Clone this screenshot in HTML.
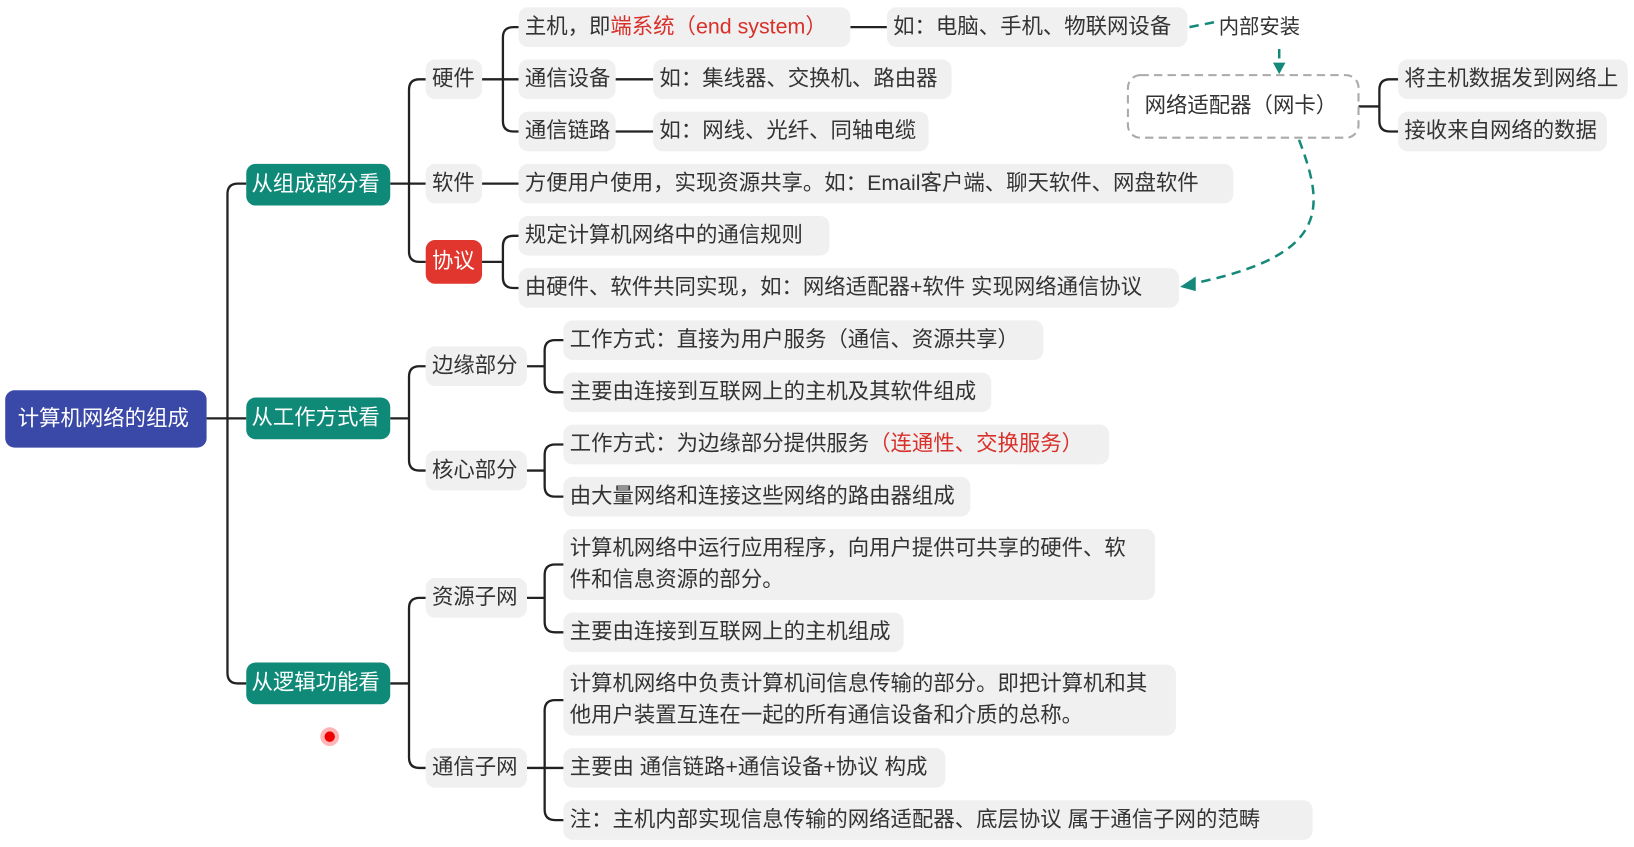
<!DOCTYPE html>
<html><head><meta charset="utf-8"><style>
html,body{margin:0;padding:0;background:#fff;width:1634px;height:847px;overflow:hidden}
#w{position:absolute;left:0;top:0;width:1566px;height:812px;transform:scale(1.0434);transform-origin:0 0;font-family:"Liberation Sans","Noto Sans CJK SC",sans-serif;color:#333}
.b{position:absolute;background:#f0f0f0;border-radius:9px;font-size:20.5px;line-height:38px;height:38px;padding-left:6px;box-sizing:border-box;white-space:nowrap}
.t{line-height:30px;padding-top:4px}
.g{background:#0f8a78;color:#fff;font-size:20.5px;padding-left:5px;height:40px;line-height:40px}
.r{color:#d8302a}
svg{position:absolute;left:0;top:0}
</style></head><body><div id="w">
<svg width="1566" height="812" fill="none" stroke="#222" stroke-width="2.2">
<path d="M198,401H236M218,401V186Q218,176 228,176H236M218,401V645Q218,655 228,655H236"/>
<path d="M374,176H408M392,176V86Q392,76 402,76H408M392,176V241Q392,251 402,251H408"/>
<path d="M462,76H497M482,76V36Q482,26 492,26H497M482,76V116Q482,126 492,126H497"/>
<path d="M815,26H850M590,76H626M590,126H626M462,176H497"/>
<path d="M462,251H482M482,251V236Q482,226 492,226H497M482,251V266Q482,276 492,276H497"/>
<path d="M374,401H392M392,401V361Q392,351 402,351H408M392,401V441Q392,451 402,451H408"/>
<path d="M505,351H522M522,351V336Q522,326 532,326H540M522,351V366Q522,376 532,376H540"/>
<path d="M505,451H522M522,451V436Q522,426 532,426H540M522,451V466Q522,476 532,476H540"/>
<path d="M374,655H392M392,655V583Q392,573 402,573H408M392,655V726Q392,736 402,736H408"/>
<path d="M505,573H522M522,573V551Q522,541 532,541H540M522,573V596Q522,606 532,606H540"/>
<path d="M505,736H540M522,736V681Q522,671 532,671H540M522,736V776Q522,786 532,786H540"/>
<path d="M1302,102H1322M1322,102V86Q1322,76 1332,76H1340M1322,102V116Q1322,126 1332,126H1340"/>
<g stroke="#14897a" stroke-width="2.4" stroke-dasharray="9,6">
<path d="M1140,26L1165,21"/>
<path d="M1226,47V62"/>
<path d="M1245,134C1270,200 1275,245 1142,272"/>
</g>
<g fill="#14897a" stroke="none">
<path d="M1220,60L1232,60L1226,71Z"/>
<path d="M1131,275L1146,265L1146,279Z"/>
</g>
<rect x="1081" y="72" width="221" height="60" rx="12" stroke="#aaa" stroke-dasharray="8,5" stroke-width="2" fill="#fff"/>
<circle cx="316" cy="706" r="9" fill="#ff6b6b" stroke="none" opacity=".5"/>
<circle cx="316" cy="706" r="5" fill="#e00" stroke="none"/>
</svg>
<div class="b" style="left:5px;top:374px;width:193px;height:55px;line-height:55px;background:#3a48a8;color:#fff;font-size:20.5px;padding-left:12px">计算机网络的组成</div>
<div class="b g" style="left:236px;top:157px;width:138px">从组成部分看</div>
<div class="b g" style="left:236px;top:381px;width:138px">从工作方式看</div>
<div class="b g" style="left:236px;top:635px;width:138px">从逻辑功能看</div>
<div class="b" style="left:408px;top:57px;width:54px">硬件</div>
<div class="b" style="left:408px;top:157px;width:54px">软件</div>
<div class="b" style="left:408px;top:230px;width:54px;height:42px;line-height:42px;background:#e0362d;color:#fff">协议</div>
<div class="b" style="left:497px;top:7px;width:318px">主机，即<span class="r">端系统（end system）</span></div>
<div class="b" style="left:850px;top:7px;width:288px">如：电脑、手机、物联网设备</div>
<div style="position:absolute;left:1168px;top:12px;font-size:19.5px;line-height:28px">内部安装</div>
<div style="position:absolute;left:1097px;top:88px;font-size:20.5px;line-height:28px">网络适配器（网卡）</div>
<div class="b" style="left:1340px;top:57px;width:220px">将主机数据发到网络上</div>
<div class="b" style="left:1340px;top:107px;width:200px">接收来自网络的数据</div>
<div class="b" style="left:497px;top:57px;width:93px">通信设备</div>
<div class="b" style="left:626px;top:57px;width:286px">如：集线器、交换机、路由器</div>
<div class="b" style="left:497px;top:107px;width:93px">通信链路</div>
<div class="b" style="left:626px;top:107px;width:264px">如：网线、光纤、同轴电缆</div>
<div class="b" style="left:497px;top:157px;width:685px">方便用户使用，实现资源共享。如：Email客户端、聊天软件、网盘软件</div>
<div class="b" style="left:497px;top:207px;width:298px">规定计算机网络中的通信规则</div>
<div class="b" style="left:497px;top:257px;width:633px">由硬件、软件共同实现，如：网络适配器+软件 实现网络通信协议</div>
<div class="b" style="left:408px;top:332px;width:97px">边缘部分</div>
<div class="b" style="left:408px;top:432px;width:97px">核心部分</div>
<div class="b" style="left:540px;top:307px;width:460px">工作方式：直接为用户服务（通信、资源共享）</div>
<div class="b" style="left:540px;top:357px;width:410px">主要由连接到互联网上的主机及其软件组成</div>
<div class="b" style="left:540px;top:407px;width:523px">工作方式：为边缘部分提供服务<span class="r">（连通性、交换服务）</span></div>
<div class="b" style="left:540px;top:457px;width:390px">由大量网络和连接这些网络的路由器组成</div>
<div class="b" style="left:408px;top:554px;width:97px">资源子网</div>
<div class="b" style="left:408px;top:717px;width:97px">通信子网</div>
<div class="b t" style="left:540px;top:507px;width:567px;height:68px">计算机网络中运行应用程序，向用户提供可共享的硬件、软<br>件和信息资源的部分。</div>
<div class="b" style="left:540px;top:587px;width:326px">主要由连接到互联网上的主机组成</div>
<div class="b t" style="left:540px;top:637px;width:587px;height:68px">计算机网络中负责计算机间信息传输的部分。即把计算机和其<br>他用户装置互连在一起的所有通信设备和介质的总称。</div>
<div class="b" style="left:540px;top:717px;width:366px">主要由 通信链路+通信设备+协议 构成</div>
<div class="b" style="left:540px;top:767px;width:718px">注：主机内部实现信息传输的网络适配器、底层协议 属于通信子网的范畴</div>
</div></body></html>
